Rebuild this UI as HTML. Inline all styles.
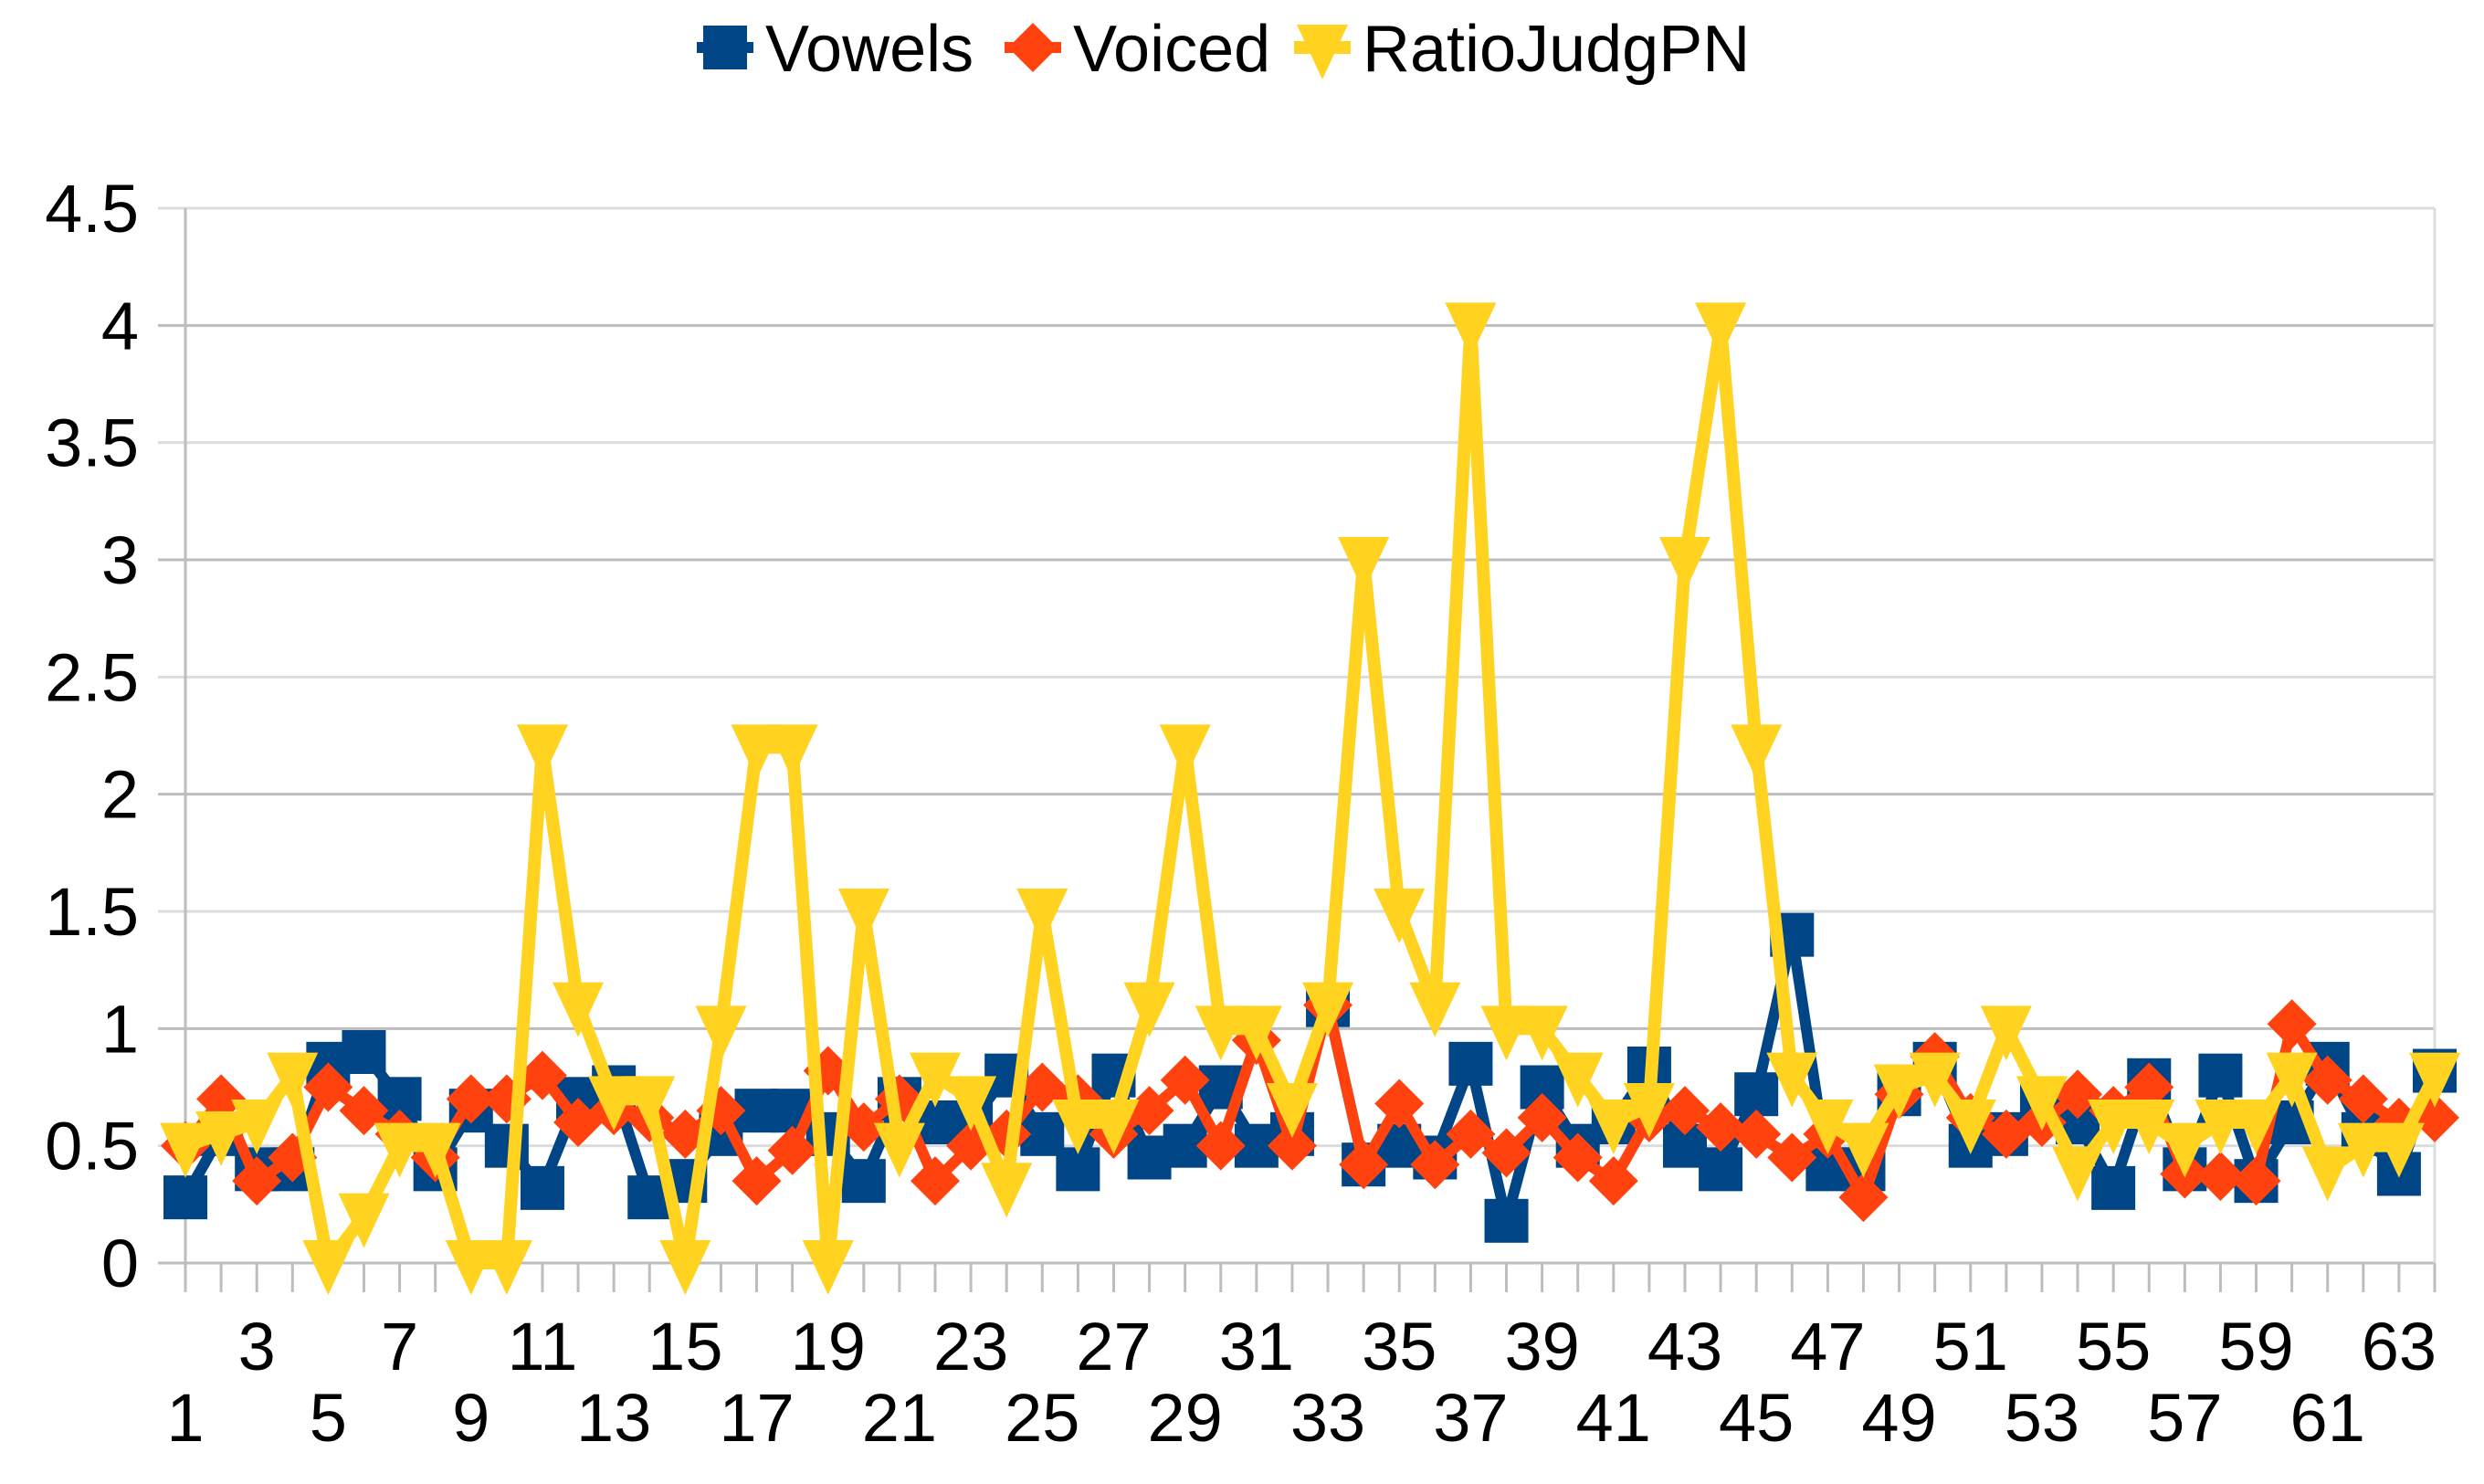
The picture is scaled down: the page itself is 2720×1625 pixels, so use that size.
<!DOCTYPE html>
<html><head><meta charset="utf-8"><style>
html,body{margin:0;padding:0;background:#fff}
svg{display:block}
text{font-family:"Liberation Sans",sans-serif;fill:#000}
</style></head><body>
<svg id="chart" width="2720" height="1625" viewBox="0 0 2720 1625" xmlns="http://www.w3.org/2000/svg">
<g id="grid"></g>
<g id="axes"></g>
<g id="series"></g>
<g id="legend"></g>
</svg>
<script>
const categories = Array.from({length:64},(_,i)=>String(i+1));
const vowels = [0.28,0.55,0.4,0.4,0.85,0.9,0.7,0.4,0.65,0.5,0.32,0.7,0.75,0.28,0.35,0.55,0.65,0.65,0.55,0.35,0.7,0.6,0.6,0.8,0.55,0.4,0.8,0.45,0.5,0.75,0.5,0.55,1.1,0.42,0.5,0.45,0.85,0.18,0.75,0.5,0.6,0.83,0.5,0.4,0.72,1.4,0.4,0.4,0.72,0.85,0.5,0.55,0.7,0.6,0.32,0.78,0.4,0.8,0.35,0.6,0.85,0.55,0.38,0.82];
const voiced = [0.5,0.7,0.35,0.45,0.75,0.65,0.55,0.45,0.7,0.7,0.8,0.6,0.65,0.62,0.55,0.65,0.35,0.48,0.82,0.58,0.7,0.35,0.5,0.55,0.75,0.7,0.55,0.65,0.78,0.5,0.95,0.5,1.1,0.42,0.68,0.42,0.55,0.47,0.62,0.45,0.35,0.62,0.65,0.58,0.55,0.45,0.55,0.28,0.72,0.88,0.62,0.55,0.6,0.72,0.65,0.75,0.38,0.37,0.35,1.02,0.78,0.7,0.6,0.62];
const ratioJudgPN = [0.5,0.55,0.6,0.8,0,0.2,0.5,0.5,0,0,2.2,1.1,0.7,0.7,0,1.0,2.2,2.2,0,1.5,0.5,0.8,0.7,0.33,1.5,0.6,0.6,1.1,2.2,1.0,1.0,0.67,1.1,3.0,1.5,1.1,4.0,1.0,1.0,0.8,0.6,0.67,3.0,4.0,2.2,0.8,0.6,0.5,0.75,0.8,0.6,1.0,0.7,0.4,0.6,0.6,0.5,0.6,0.6,0.8,0.4,0.5,0.5,0.8];
const yTicks = ["0","0.5","1","1.5","2","2.5","3","3.5","4","4.5"];

const NS="http://www.w3.org/2000/svg";
const X0=203,X1=2666,Y0=1383,Y1=228,YMAX=4.5;
const xs=i=>X0+i*(X1-X0)/(categories.length-1);
const ys=v=>Y0-v*(Y0-Y1)/YMAX;
function mk(tag,attrs,parent){const e=document.createElementNS(NS,tag);for(const k in attrs)e.setAttribute(k,attrs[k]);parent.appendChild(e);return e;}
const grid=document.getElementById('grid'),axes=document.getElementById('axes'),ser=document.getElementById('series'),leg=document.getElementById('legend');

yTicks.forEach((t,i)=>{
  const v=parseFloat(t),y=ys(v);
  const l=mk('line',{x1:173,x2:X1,y1:y,y2:y,stroke:(i%2==0?'#bdbdbd':'#dcdcdc'),'stroke-width':3},grid);
  
  
  const tx=mk('text',{x:152,y:y+26,'text-anchor':'end','font-size':74},axes);
  tx.textContent=t;
  
  
});
const va=mk('line',{x1:X0,x2:X0,y1:Y1,y2:Y0+32,stroke:'#bdbdbd','stroke-width':3},axes);


const vr=mk('line',{x1:X1,x2:X1,y1:Y1,y2:Y0+32,stroke:'#dcdcdc','stroke-width':3},axes);


categories.forEach((c,i)=>{
  const x=xs(i);
  const tk=mk('line',{x1:x,x2:x,y1:Y0,y2:Y0+32,stroke:'#bdbdbd','stroke-width':3},axes);
  
  
  if(i%2==0){
    const row=(i%4==0)?1578:1500;
    const tx=mk('text',{x:x,y:row,'text-anchor':'middle','font-size':74},axes);
    tx.textContent=c;
    
    
  }
});

function marker(type,x,y,color,parent){
  let e;
  if(type==='square') e=mk('rect',{x:x-24,y:y-24,width:48,height:48,fill:color},parent);
  else if(type==='diamond') e=mk('polygon',{points:`${x},${y-27} ${x+27},${y} ${x},${y+27} ${x-27},${y}`,fill:color},parent);
  else e=mk('polygon',{points:`${x-28},${y-25} ${x+28},${y-25} ${x},${y+35}`,fill:color},parent);
  return e;
}
const seriesList=[
  {name:'Vowels',data:vowels,color:'#004586',m:'square',w:12},
  {name:'Voiced',data:voiced,color:'#ff420e',m:'diamond',w:12},
  {name:'RatioJudgPN',data:ratioJudgPN,color:'#ffd320',m:'triangle',w:14}
];
seriesList.forEach(s=>{
  const g=mk('g',{},ser);
  
  
  const pts=s.data.map((v,i)=>xs(i)+','+ys(v)).join(' ');
  const pl=mk('polyline',{points:pts,fill:'none',stroke:s.color,'stroke-width':s.w,'stroke-linejoin':'miter'},g);
  
  
  s.data.forEach((v,i)=>{
    const m=marker(s.m,xs(i),ys(v),s.color,g);
    
    
  });
});
// legend
const legItems=[{x:763},{x:1100},{x:1417}];
seriesList.forEach((s,k)=>{
  const g=mk('g',{},leg);
  
  
  const lx=legItems[k].x;
  mk('line',{x1:lx,x2:lx+62,y1:52,y2:52,stroke:s.color,'stroke-width':s.w},g);
  marker(s.m,lx+31,52,s.color,g);
  const t=mk('text',{x:lx+75,y:78,'font-size':72},g);
  t.textContent=s.name;
});
</script>
</body></html>
